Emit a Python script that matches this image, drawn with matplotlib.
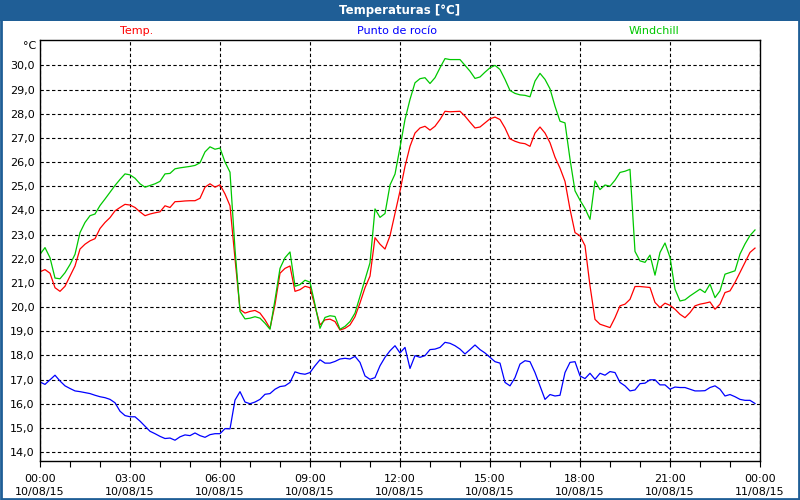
import matplotlib
matplotlib.use('Agg')
import matplotlib.pyplot as plt
import matplotlib.dates as mdates
from matplotlib.patches import Rectangle
import pandas as pd

# one reading every 10 minutes, 10/08/15 00:00 .. 23:50
times = pd.date_range('2015-08-10 00:00', periods=144, freq='10min')

temp = [21.46, 21.55, 21.4, 20.8, 20.65, 20.86, 21.28, 21.7, 22.4, 22.6, 22.74, 22.83,
        23.25, 23.5, 23.7, 23.98, 24.12, 24.25, 24.22, 24.12, 23.94, 23.78, 23.85, 23.9,
        23.94, 24.19, 24.12, 24.36, 24.37, 24.39, 24.4, 24.4, 24.5, 24.96, 25.1, 24.96,
        25.06, 24.68, 24.19, 22.0, 19.9, 19.75, 19.82, 19.86, 19.75, 19.47, 19.12, 20.1,
        21.4, 21.6, 21.7, 20.65, 20.72, 20.86, 20.8, 20.03, 19.26, 19.47, 19.5, 19.4,
        19.05, 19.12, 19.26, 19.6, 20.17, 20.8, 21.28, 22.87, 22.6, 22.4, 22.95, 23.87,
        24.8, 25.82, 26.65, 27.2, 27.41, 27.48, 27.32, 27.48, 27.76, 28.1, 28.08, 28.09,
        28.1, 27.9, 27.65, 27.41, 27.45, 27.62, 27.79, 27.86, 27.76, 27.41, 26.96, 26.86,
        26.79, 26.76, 26.65, 27.2, 27.45, 27.2, 26.8, 26.2, 25.75, 25.2, 24.05, 23.08,
        22.95, 22.54, 20.88, 19.49, 19.29, 19.22, 19.15, 19.56, 20.05, 20.12, 20.32, 20.85,
        20.85, 20.83, 20.81, 20.19, 19.98, 20.16, 20.07, 19.91, 19.7, 19.56, 19.77, 20.05,
        20.12, 20.16, 20.21, 19.91, 20.12, 20.6, 20.67, 21.02, 21.43, 21.85, 22.26, 22.44]

dew = [16.9, 16.8, 16.99, 17.18, 16.94, 16.74, 16.63, 16.53, 16.5, 16.46, 16.42, 16.35,
       16.29, 16.25, 16.18, 16.04, 15.69, 15.51, 15.46, 15.46, 15.28, 15.07, 14.86, 14.76,
       14.65, 14.56, 14.58, 14.49, 14.63, 14.71, 14.68, 14.79, 14.68, 14.61, 14.72, 14.76,
       14.76, 14.97, 14.96, 16.15, 16.5, 16.07, 16.0, 16.07, 16.18, 16.39, 16.42, 16.6,
       16.71, 16.74, 16.88, 17.32, 17.25, 17.22, 17.29, 17.57, 17.82, 17.68, 17.68, 17.75,
       17.85, 17.88, 17.85, 17.96, 17.71, 17.15, 17.01, 17.08, 17.57, 17.92, 18.19, 18.4,
       18.1, 18.33, 17.46, 17.99, 17.92, 17.99, 18.24, 18.26, 18.33, 18.54, 18.5, 18.4,
       18.26, 18.06, 18.24, 18.43, 18.24, 18.1, 17.92, 17.74, 17.68, 16.88, 16.74, 17.08,
       17.64, 17.78, 17.74, 17.29, 16.74, 16.18, 16.38, 16.32, 16.35, 17.29, 17.71, 17.74,
       17.15, 17.04, 17.26, 17.01, 17.26, 17.18, 17.33, 17.29, 16.88, 16.74, 16.53, 16.57,
       16.83, 16.85, 16.99, 16.99, 16.78, 16.78, 16.6, 16.69, 16.67, 16.67, 16.6, 16.53,
       16.53, 16.54, 16.67, 16.74, 16.6, 16.32, 16.38, 16.29, 16.18, 16.14, 16.14, 16.01]

windchill = [22.18, 22.46, 22.04, 21.2, 21.17, 21.42, 21.76, 22.18, 23.08, 23.5, 23.78, 23.85,
             24.2, 24.47, 24.75, 25.03, 25.28, 25.51, 25.47, 25.33, 25.1, 24.96, 25.03, 25.1,
             25.2, 25.51, 25.53, 25.72, 25.76, 25.79, 25.82, 25.86, 25.97, 26.42, 26.63, 26.53,
             26.58, 26.0, 25.58, 22.4, 19.82, 19.51, 19.54, 19.6, 19.54, 19.33, 19.08, 20.3,
             21.6, 22.04, 22.28, 20.86, 20.93, 21.11, 21.03, 20.1, 19.12, 19.57, 19.64, 19.61,
             19.08, 19.2, 19.4, 19.75, 20.44, 21.14, 21.83, 24.06, 23.71, 23.87, 25.05, 25.5,
             26.6, 27.76, 28.59, 29.28, 29.45, 29.49, 29.25, 29.49, 29.9, 30.28, 30.24, 30.24,
             30.24, 30.0, 29.76, 29.46, 29.52, 29.72, 29.9, 30.0, 29.83, 29.42, 28.96, 28.84,
             28.78, 28.76, 28.7, 29.35, 29.67, 29.42, 29.03, 28.31, 27.69, 27.62, 26.12, 24.81,
             24.42, 24.08, 23.63, 25.22, 24.86, 25.05, 25.0, 25.25, 25.57, 25.62, 25.7, 22.3,
             21.91, 21.85, 22.15, 21.32, 22.26, 22.65, 22.06, 20.74, 20.25, 20.3, 20.46, 20.6,
             20.74, 20.6, 20.95, 20.39, 20.67, 21.36, 21.43, 21.5, 22.19, 22.61, 22.96, 23.19]

series_names = ['Temp.', 'Punto de rocío', 'Windchill']
series_colors = ['#ff0000', '#0000ff', '#00c800']

y_ticks = [14, 15, 16, 17, 18, 19, 20, 21, 22, 23, 24, 25, 26, 27, 28, 29, 30]
x_ticks = pd.date_range('2015-08-10 00:00', '2015-08-11 00:00', freq='3h')

plt.rcParams['font.family'] = ['DejaVu Sans']
fig = plt.figure(figsize=(8, 5), dpi=100, facecolor='white')

# window title bar and frame
bar_color = '#1f5e96'
fig.patches.append(Rectangle((0, 1 - 21 / 500), 1, 21 / 500, transform=fig.transFigure,
                             facecolor=bar_color, edgecolor='none', zorder=0))
fig.patches.append(Rectangle((0.001, 0.002), 0.998, 0.997, transform=fig.transFigure,
                             facecolor='none', edgecolor=bar_color, linewidth=2, zorder=5))
fig.text(0.5, 1 - 10.5 / 500, 'Temperaturas [°C]', color='white', fontsize=8.5,
         fontweight='bold', ha='center', va='center')

ax = fig.add_axes([40 / 800, 1 - 461 / 500, 720 / 800, 421 / 500])
ax.plot(times, temp, color=series_colors[0], lw=0.9)
ax.plot(times, dew, color=series_colors[1], lw=0.9)
ax.plot(times, windchill, color=series_colors[2], lw=0.9)

# legend as coloured labels above the plot
for name, col, xp in zip(series_names, series_colors, [137, 397, 654]):
    fig.text(xp / 800, 1 - 31 / 500, name, color=col, fontsize=8, ha='center', va='center')

ax.set_xlim(x_ticks[0], x_ticks[-1])
ax.set_ylim(13.63, 31.05)
ax.set_yticks(y_ticks)
ax.set_yticklabels([f'{v:.1f}'.replace('.', ',') for v in y_ticks])
ax.set_xticks(x_ticks)
ax.set_xticklabels([t.strftime('%H:%M\n%d/%m/%y') for t in x_ticks], linespacing=1.45)
ax.xaxis.set_minor_locator(mdates.HourLocator())
ax.tick_params(axis='x', which='both', direction='out', length=4, width=0.8,
               labelsize=8, pad=5, colors='black')
ax.tick_params(axis='y', length=0, labelsize=8, pad=4)
ax.grid(True, color='black', linestyle=(0, (3, 2.2)), linewidth=0.8)
for s in ax.spines.values():
    s.set_linewidth(1)
ax.text(-0.005, 1 - 6 / 421, '°C', transform=ax.transAxes, fontsize=8,
        ha='right', va='center')

fig.savefig('out.png', dpi=100, facecolor='white')
